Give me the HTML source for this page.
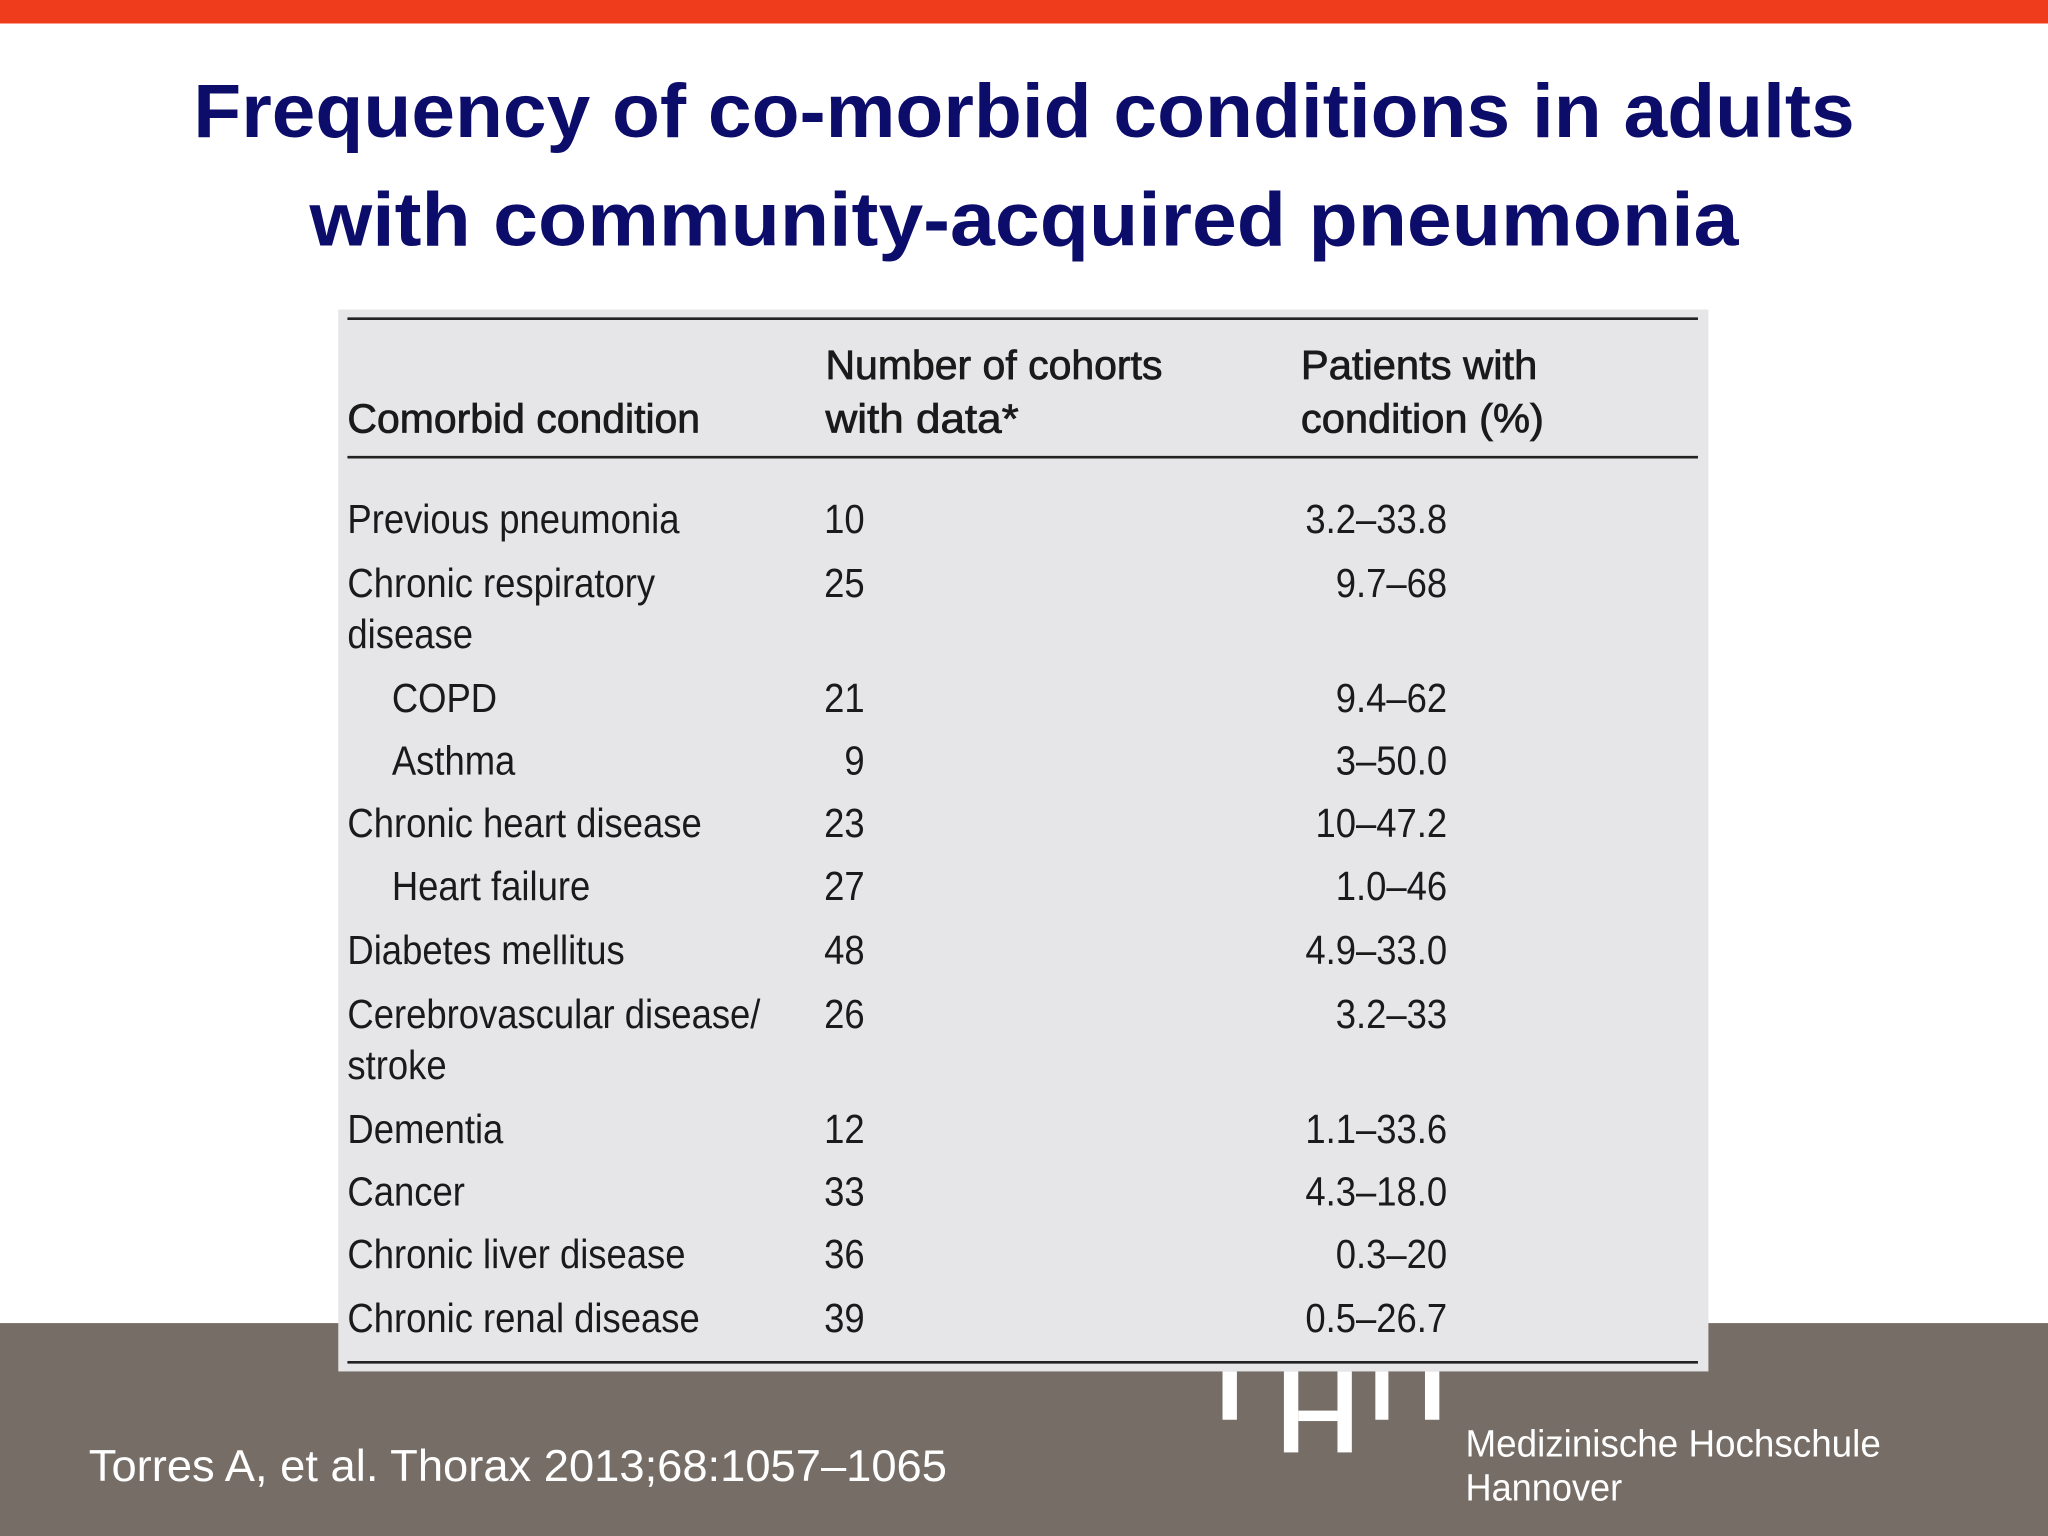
<!DOCTYPE html>
<html><head><meta charset="utf-8"><style>
html,body{margin:0;padding:0;background:#fff}
svg{display:block}
text{font-family:"Liberation Sans Narrow","Liberation Sans",sans-serif}
</style></head><body>
<svg id="s" width="2048" height="1536" viewBox="0 0 1568 1176" xmlns="http://www.w3.org/2000/svg">
<rect x="0" y="0" width="1568" height="1176" fill="#ffffff"/>
<rect x="0" y="0" width="1568" height="18" fill="#ef3c1c"/>
<rect x="0" y="1013" width="1568" height="163" fill="#766d66"/>
<text x="784" y="105" text-anchor="middle" font-weight="bold" font-size="58" fill="#0c0c6b" textLength="1272" lengthAdjust="spacingAndGlyphs" style="font-family:'Liberation Sans',sans-serif">Frequency of co-morbid conditions in adults</text>
<text x="784" y="188" text-anchor="middle" font-weight="bold" font-size="58" fill="#0c0c6b" textLength="1094" lengthAdjust="spacingAndGlyphs" style="font-family:'Liberation Sans',sans-serif">with community-acquired pneumonia</text>
<rect x="259" y="237" width="1049" height="813" fill="#e6e5e8"/>
<line x1="266" y1="244" x2="1300" y2="244" stroke="#222" stroke-width="2"/>
<line x1="266" y1="350" x2="1300" y2="350" stroke="#222" stroke-width="2"/>
<line x1="266" y1="1043" x2="1300" y2="1043" stroke="#222" stroke-width="2"/>
<g font-size="31" fill="#1a1a1a" stroke="#1a1a1a" stroke-width="0.6">
<text x="266" y="331" textLength="270" lengthAdjust="spacingAndGlyphs">Comorbid condition</text>
<text x="632" y="290" textLength="258" lengthAdjust="spacingAndGlyphs">Number of cohorts</text>
<text x="632" y="331" textLength="148" lengthAdjust="spacingAndGlyphs">with data*</text>
<text x="996" y="290" textLength="181" lengthAdjust="spacingAndGlyphs">Patients with</text>
<text x="996" y="331" textLength="186" lengthAdjust="spacingAndGlyphs">condition (%)</text>
</g>
<g id="rows" font-size="31" fill="#1a1a1a"></g>
<g fill="#ffffff">
<rect x="936" y="1050" width="11" height="37"/>
<rect x="983" y="1050" width="11" height="62"/>
<rect x="994" y="1080" width="30" height="8"/>
<rect x="1024" y="1050" width="11" height="62"/>
<rect x="1053" y="1050" width="10" height="37"/>
<rect x="1091" y="1050" width="11" height="37"/>
</g>
<text x="1122" y="1115" font-size="29" fill="#ffffff" textLength="318" lengthAdjust="spacingAndGlyphs">Medizinische Hochschule</text>
<text x="1122" y="1149" font-size="29" fill="#ffffff" textLength="120" lengthAdjust="spacingAndGlyphs">Hannover</text>
<text x="68" y="1134" font-size="34" fill="#ffffff" textLength="657" lengthAdjust="spacingAndGlyphs" style="font-family:'Liberation Sans',sans-serif">Torres A, et al. Thorax 2013;68:1057–1065</text>
</svg>
<script>
const conditions=["Previous pneumonia","Chronic respiratory|disease","COPD","Asthma","Chronic heart disease","Heart failure","Diabetes mellitus","Cerebrovascular disease/|stroke","Dementia","Cancer","Chronic liver disease","Chronic renal disease"];
const subRow=[0,0,1,1,0,1,0,0,0,0,0,0];
const cohorts=["10","25","21","9","23","27","48","26","12","33","36","39"];
const ranges=["3.2–33.8","9.7–68","9.4–62","3–50.0","10–47.2","1.0–46","4.9–33.0","3.2–33","1.1–33.6","4.3–18.0","0.3–20","0.5–26.7"];
const rowY=[408,457,545,593,641,689,738,787,875,923,971,1020];
const ns="http://www.w3.org/2000/svg";
const g=document.getElementById('rows');
function mk(x,y,txt,anchor){const t=document.createElementNS(ns,'text');t.setAttribute('x',x);t.setAttribute('y',y);if(anchor)t.setAttribute('text-anchor',anchor);t.textContent=txt;t.setAttribute('transform','translate('+x+' 0) scale(0.9 1) translate('+(-x)+' 0)');g.appendChild(t);return t;}
conditions.forEach((c,i)=>{
  const parts=c.split('|');
  parts.forEach((p,j)=>{
    const t=mk(subRow[i]?300:266,rowY[i]+j*39,p);
    
    
  });
  const a=mk(662,rowY[i],cohorts[i],'end');
  
  
  const b=mk(1108,rowY[i],ranges[i],'end');
  
  
});
</script>
</body></html>
